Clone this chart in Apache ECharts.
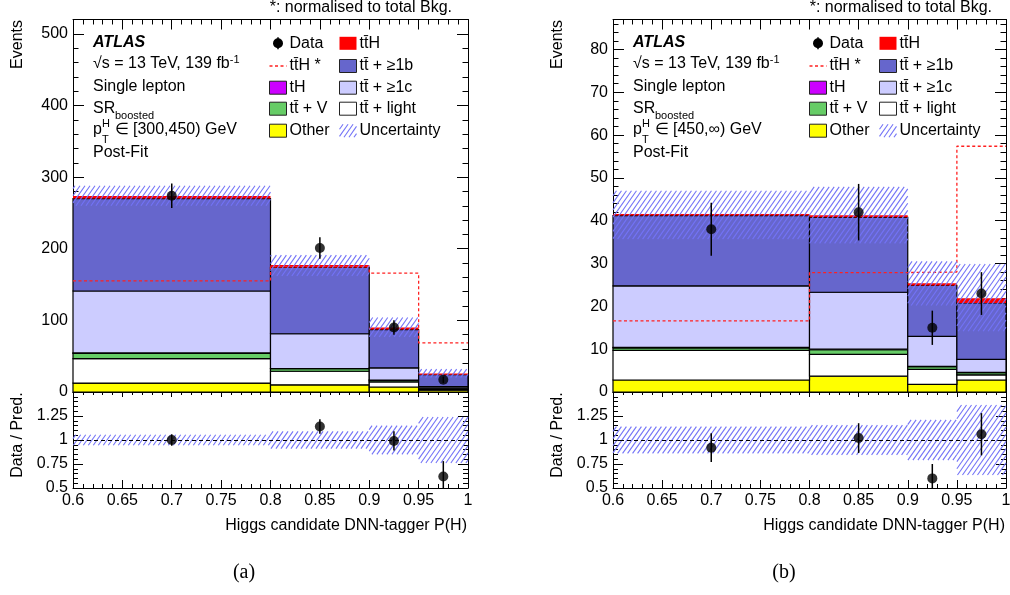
<!DOCTYPE html>
<html><head><meta charset="utf-8">
<script src="https://cdn.jsdelivr.net/npm/echarts@6/dist/echarts.min.js"></script>
<style>html,body{margin:0;padding:0;background:#fff}#c{width:1010px;height:595px}</style>
</head><body><div id="c"></div>
<script>
// ---------- data ----------
const edges = [0.6, 0.8, 0.9, 0.95, 1.0];
const compNames = ['Other', 'tt\u0304 + light', 'tt\u0304 + V', 'tH', 'tt\u0304 + \u22651c', 'tt\u0304 + \u22651b', 'tt\u0304H'];
// panel (a)  pT in [300,450)
const aOther = [12.5, 10, 7, 2.5];
const aLight = [34, 19, 7, 2];
const aTtV   = [7.5, 3.5, 2.5, 0.8];
const aTH    = [0.5, 0.3, 0.2, 0.1];
const aTtc   = [86.5, 48.5, 17, 2.2];
const aTtb   = [129, 92.5, 53.5, 16.5];
const aTtH   = [3.5, 3.5, 3, 1.8];
const aData    = [274, 201, 90, 17];
const aDataErr = [17, 15, 10, 4.5];
const aBandLo  = [260, 162, 77, 20];
const aBandHi  = [288, 191, 104, 32];
const aTtHstar = [155, 175, 166, 68.5];
const aRatio    = [1.0, 1.14, 0.99, 0.62];
const aRatioErr = [0.06, 0.075, 0.1, 0.16];
const aRBandLo  = [0.945, 0.91, 0.85, 0.76];
const aRBandHi  = [1.055, 1.09, 1.15, 1.24];
// panel (b)  pT in [450,inf)
const bOther = [2.8, 3.7, 1.8, 2.8];
const bLight = [6.9, 5.1, 3.5, 1.2];
const bTtV   = [0.6, 1.1, 0.6, 0.5];
const bTH    = [0.1, 0.1, 0.1, 0.1];
const bTtc   = [14.4, 13.3, 7.0, 3.0];
const bTtb   = [16.4, 17.5, 11.9, 13.2];
const bTtH   = [0.4, 0.5, 0.5, 1.1];
const bData    = [38, 42, 15, 23];
const bDataErr = [6.2, 6.6, 4, 5];
const bBandLo  = [35.7, 34.7, 20.2, 14.2];
const bBandHi  = [47, 47.9, 30.5, 29.9];
const bTtHstar = [16.6, 27.9, 28.0, 57.4];
const bRatio    = [0.92, 1.02, 0.60, 1.06];
const bRatioErr = [0.15, 0.155, 0.15, 0.22];
const bRBandLo  = [0.86, 0.845, 0.79, 0.635];
const bRBandHi  = [1.14, 1.155, 1.21, 1.365];
const ratioRef = 1;

// ---------- styling ----------
const F = '"Liberation Sans", Arial, sans-serif';
const colors = ['#ffff00', '#ffffff', '#66cc66', '#cc00ff', '#ccccff', '#6666cc', '#ff0000'];
const HATCH_COLOR = '#7373f7', HATCH_S = 5, HATCH_K = 0.7;

// diagonal "////" hatch lines clipped to a pixel rectangle
function hatchLines(x0, y0, x1, y1) {
  const out = [];
  const k = HATCH_K, s = HATCH_S;
  const cStart = Math.ceil((x0 + k * y0) / s) * s;
  const cEnd = x1 + k * y1;
  for (let c = cStart; c <= cEnd; c += s) {
    const ya = Math.max(y0, (c - x1) / k);
    const yb = Math.min(y1, (c - x0) / k);
    if (yb - ya > 0.01) {
      out.push({ type: 'line', silent: true,
        shape: { x1: c - k * ya, y1: ya, x2: c - k * yb, y2: yb },
        style: { stroke: HATCH_COLOR, lineWidth: 1.1 } });
    }
  }
  return out;
}

const panels = [
  { dx: 0, gl: 73, gw: 395, ymax: 520, ymaj: 100, ymin: 20,
    comps: [aOther, aLight, aTtV, aTH, aTtc, aTtb, aTtH],
    data: aData, err: aDataErr, lo: aBandLo, hi: aBandHi, star: aTtHstar,
    ratio: aRatio, rerr: aRatioErr, rlo: aRBandLo, rhi: aRBandHi,
    pt: '\u2208 [300,450) GeV', cap: '(a)' },
  { dx: 540, gl: 613, gw: 393, ymax: 87, ymaj: 10, ymin: 2,
    comps: [bOther, bLight, bTtV, bTH, bTtc, bTtb, bTtH],
    data: bData, err: bDataErr, lo: bBandLo, hi: bBandHi, star: bTtHstar,
    ratio: bRatio, rerr: bRatioErr, rlo: bRBandLo, rhi: bRBandHi,
    pt: '\u2208 [450,\u221e) GeV', cap: '(b)' }
];

const grids = [], xAxes = [], yAxes = [], series = [], graphic = [];
const blk = { color: '#000', width: 1 };

function xAx(gi, pos, lab, tl, ml) {
  return { type: 'value', gridIndex: gi, position: pos, min: 0.6, max: 1.0, interval: 0.05,
    axisLine: { show: true, onZero: false, lineStyle: blk },
    axisTick: { show: true, inside: true, length: tl, lineStyle: blk },
    minorTick: { show: true, splitNumber: 5, length: ml, lineStyle: blk },
    splitLine: { show: false }, minorSplitLine: { show: false },
    axisLabel: { show: lab, color: '#000', fontSize: 16, fontFamily: F, margin: 5 } };
}
function yAx(gi, pos, min, max, iv, lab, line, tl, minor) {
  return { type: 'value', gridIndex: gi, position: pos, min: min, max: max, interval: iv,
    axisLine: { show: line, onZero: false, lineStyle: blk },
    axisTick: { show: true, inside: true, length: tl, lineStyle: blk },
    minorTick: { show: !!minor, splitNumber: 5, length: 5, lineStyle: blk },
    splitLine: { show: false }, minorSplitLine: { show: false },
    axisLabel: { show: lab, color: '#000', fontSize: 16, fontFamily: F, margin: 5, showMaxLabel: false } };
}
function rectItem(params, api, fill, stroke) {
  const p0 = api.coord([api.value(0), api.value(3)]);
  const p1 = api.coord([api.value(1), api.value(2)]);
  return { type: 'rect', shape: { x: p0[0], y: p0[1], width: p1[0] - p0[0], height: p1[1] - p0[1] },
    style: { fill: fill, stroke: stroke, lineWidth: stroke ? 1.2 : 0 } };
}
function hatchItem(params, api) {
  const p0 = api.coord([api.value(0), api.value(3)]);
  const p1 = api.coord([api.value(1), api.value(2)]);
  return { type: 'group', children: hatchLines(p0[0], p0[1], p1[0], p1[1]) };
}
function errItem(params, api) {
  const cs = params.coordSys;
  const x = api.value(0), v = api.value(1), e = api.value(2);
  const a = api.coord([x, v - e]), b = api.coord([x, v + e]);
  const clampY = y => Math.max(cs.y, Math.min(cs.y + cs.height, y));
  return { type: 'line', shape: { x1: a[0], y1: clampY(a[1]), x2: b[0], y2: clampY(b[1]) },
    style: { stroke: '#000', lineWidth: 1.5 } };
}

panels.forEach((P, p) => {
  const gm = 2 * p, gr = 2 * p + 1;
  grids.push({ left: P.gl, top: 19.5, width: P.gw, height: 372.5, outerBoundsMode: 'none', containLabel: false });
  grids.push({ left: P.gl, top: 392, width: P.gw, height: 96, outerBoundsMode: 'none', containLabel: false });
  xAxes.push(xAx(gm, 'bottom', false, 10, 5));
  xAxes.push(xAx(gm, 'top', false, 10, 5));
  xAxes.push(xAx(gr, 'bottom', true, 8, 4));
  xAxes.push(xAx(gr, 'top', false, 5, 3));
  yAxes.push(yAx(gm, 'left', 0, P.ymax, P.ymaj, true, true, 11, false));
  yAxes.push(yAx(gm, 'left', 0, P.ymax, P.ymin, false, false, 5.5, false));
  yAxes.push(yAx(gm, 'right', 0, P.ymax, P.ymaj, false, true, 11, false));
  yAxes.push(yAx(gm, 'right', 0, P.ymax, P.ymin, false, false, 5.5, false));
  yAxes.push(yAx(gr, 'left', 0.5, 1.5, 0.25, true, true, 10, true));
  yAxes.push(yAx(gr, 'right', 0.5, 1.5, 0.25, false, true, 10, true));
  const xm = 4 * p, xr = 4 * p + 2, ym = 6 * p, yr = 6 * p + 4;

  // stacked histogram
  const stack = [];
  const cum = [0, 0, 0, 0];
  P.comps.forEach((arr, ci) => {
    for (let b = 0; b < 4; b++) {
      stack.push([edges[b], edges[b + 1], cum[b], cum[b] + arr[b], ci]);
      cum[b] += arr[b];
    }
  });
  series.push({ type: 'custom', xAxisIndex: xm, yAxisIndex: ym, z: 2, silent: true,
    encode: { x: [0, 1], y: [2, 3] }, data: stack,
    renderItem: (params, api) => {
      const ci = api.value(4);
      return rectItem(params, api, colors[ci], ci === 6 ? null : '#000');
    } });
  // ttH* normalised (step)
  const starPts = edges.map((e, i) => [e, P.star[Math.min(i, 3)]]);
  series.push({ type: 'line', xAxisIndex: xm, yAxisIndex: ym, z: 3, step: 'end', symbol: 'none', silent: true,
    data: starPts, lineStyle: { color: '#ff2020', width: 1.3, type: [3, 2.5] } });
  // uncertainty band
  series.push({ type: 'custom', xAxisIndex: xm, yAxisIndex: ym, z: 4, silent: true,
    encode: { x: [0, 1], y: [2, 3] },
    data: P.lo.map((l, b) => [edges[b], edges[b + 1], l, P.hi[b]]),
    renderItem: hatchItem });
  const centers = edges.slice(0, 4).map((e, b) => (e + edges[b + 1]) / 2);
  // data error bars + points
  series.push({ type: 'custom', xAxisIndex: xm, yAxisIndex: ym, z: 5, silent: true,
    encode: { x: 0, y: 1 }, data: centers.map((c, b) => [c, P.data[b], P.err[b]]), renderItem: errItem });
  series.push({ type: 'scatter', xAxisIndex: xm, yAxisIndex: ym, z: 6, silent: true, symbol: 'circle', symbolSize: 10,
    itemStyle: { color: '#000' }, data: centers.map((c, b) => [c, P.data[b]]) });

  // ratio panel
  series.push({ type: 'custom', xAxisIndex: xr, yAxisIndex: yr, z: 4, silent: true,
    encode: { x: [0, 1], y: [2, 3] },
    data: P.rlo.map((l, b) => [edges[b], edges[b + 1], l, P.rhi[b]]),
    renderItem: hatchItem });
  series.push({ type: 'custom', xAxisIndex: xr, yAxisIndex: yr, z: 5, silent: true,
    encode: { x: 0, y: 1 }, data: centers.map((c, b) => [c, P.ratio[b], P.rerr[b]]), renderItem: errItem });
  series.push({ type: 'scatter', xAxisIndex: xr, yAxisIndex: yr, z: 6, silent: true, symbol: 'circle', symbolSize: 10,
    itemStyle: { color: '#000' }, data: centers.map((c, b) => [c, P.ratio[b]]),
    markLine: { silent: true, symbol: 'none', label: { show: false }, animation: false,
      lineStyle: { color: '#000', width: 1, type: [4, 3] }, data: [{ yAxis: ratioRef }] } });

  // ---------- texts ----------
  const dx = P.dx;
  const T = (x, y, text, o) => Object.assign({ type: 'text', x: x, y: y, silent: true, z: 100,
    style: Object.assign({ text: text, fill: '#000', font: '16px ' + F, align: 'left', verticalAlign: 'middle',
      textAlign: 'left', textVerticalAlign: 'middle' }, (o && o.style) || {}) }, o && o.rotation ? { rotation: o.rotation } : {});
  graphic.push(T(dx + 452, 8, '*: normalised to total Bkg.', { style: { align: 'right', textAlign: 'right' } }));
  graphic.push(T(dx + 18, 20, 'Events', { rotation: Math.PI / 2, style: { align: 'right', textAlign: 'right' } }));
  graphic.push(T(dx + 18, 435, 'Data / Pred.', { rotation: Math.PI / 2, style: { align: 'center', textAlign: 'center' } }));
  graphic.push(T(P.gl + P.gw - 1, 526, 'Higgs candidate DNN-tagger P(H)', { style: { align: 'right', textAlign: 'right' } }));
  graphic.push(T(P.gl + 171, 573, P.cap, { style: { align: 'center', textAlign: 'center', font: '20px "Liberation Serif", serif' } }));
  graphic.push(T(dx + 93, 43, 'ATLAS', { style: { font: 'italic bold 16px ' + F } }));
  graphic.push({ type: 'text', x: dx + 93, y: 64, silent: true, z: 100,
    style: { text: '{a|\u221as = 13 TeV, 139 fb}{b|-1}', verticalAlign: 'middle', textVerticalAlign: 'middle',
      rich: { a: { fontSize: 16, fontFamily: F, color: '#000', lineHeight: 20 },
              b: { fontSize: 11, fontFamily: F, color: '#000', lineHeight: 11, verticalAlign: 'top' } } } });
  graphic.push(T(dx + 93, 87, 'Single lepton'));
  graphic.push(T(dx + 93, 108.5, 'SR'));
  graphic.push(T(dx + 115, 115.5, 'boosted', { style: { font: '11px ' + F } }));
  graphic.push(T(dx + 93, 130, 'p'));
  graphic.push(T(dx + 102, 123.5, 'H', { style: { font: '11px ' + F } }));
  graphic.push(T(dx + 102, 139.5, 'T', { style: { font: '11px ' + F } }));
  graphic.push(T(dx + 114.5, 130, P.pt));
  graphic.push(T(dx + 93, 153, 'Post-Fit'));

  // legend
  const rows = [43.3, 66, 87.7, 108.7, 130.7];
  const c1x = dx + 269.5, c2x = dx + 339.5;
  graphic.push({ type: 'line', silent: true, z: 100, shape: { x1: c1x + 8.5, y1: rows[0] - 6, x2: c1x + 8.5, y2: rows[0] + 6 }, style: { stroke: '#000', lineWidth: 1.5 } });
  graphic.push({ type: 'circle', silent: true, z: 100, shape: { cx: c1x + 8.5, cy: rows[0], r: 5 }, style: { fill: '#000' } });
  graphic.push(T(c1x + 20, rows[0], 'Data'));
  graphic.push({ type: 'line', silent: true, z: 100, shape: { x1: c1x, y1: rows[1], x2: c1x + 17, y2: rows[1] }, style: { stroke: '#ff2020', lineWidth: 1.3, lineDash: [3, 2.5] } });
  graphic.push(T(c1x + 20, rows[1], 'tt\u0304H *'));
  const box = (x, y, fill, stroke) => ({ type: 'rect', silent: true, z: 100, shape: { x: x, y: y - 6.5, width: 17, height: 13 },
    style: { fill: fill, stroke: stroke || null, lineWidth: stroke ? 1 : 0 } });
  [[3, 2], [2, 3], [0, 4]].forEach(([ci, r]) => {
    graphic.push(box(c1x, rows[r], colors[ci], '#222'));
    graphic.push(T(c1x + 20, rows[r], compNames[ci]));
  });
  [[6, 0], [5, 1], [4, 2], [1, 3]].forEach(([ci, r]) => {
    graphic.push(box(c2x, rows[r], colors[ci], ci === 6 ? null : '#222'));
    graphic.push(T(c2x + 20, rows[r], compNames[ci]));
  });
  graphic.push({ type: 'group', silent: true, z: 100,
    children: hatchLines(c2x, rows[4] - 6.5, c2x + 17, rows[4] + 6.5) });
  graphic.push(T(c2x + 20, rows[4], 'Uncertainty'));
});

const chart = echarts.init(document.getElementById('c'), null, { renderer: 'canvas' });
chart.setOption({
  animation: false, backgroundColor: '#fff',
  grid: grids, xAxis: xAxes, yAxis: yAxes, series: series, graphic: graphic,
  tooltip: { show: false }, legend: { show: false }
});
</script></body></html>
